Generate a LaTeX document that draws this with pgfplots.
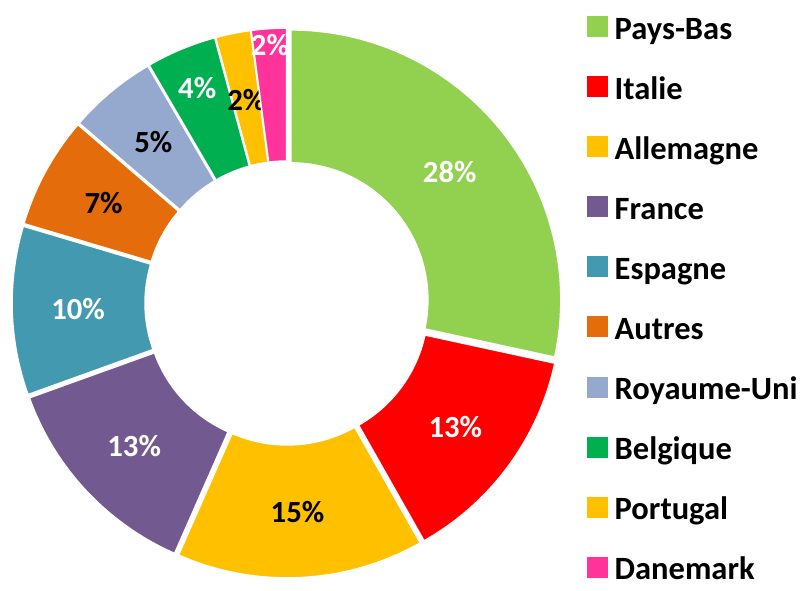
\documentclass[border=0pt]{standalone}
\usepackage{fontspec}
\setmainfont{Carlito}
\usepackage{pgfplots}
\usepackage{pgfplotstable}
\pgfplotsset{compat=1.18}
\usetikzlibrary{calc}

\definecolor{c0}{HTML}{92D050}
\definecolor{c1}{HTML}{FF0000}
\definecolor{c2}{HTML}{FFC000}
\definecolor{c3}{HTML}{72598F}
\definecolor{c4}{HTML}{4399B0}
\definecolor{c5}{HTML}{E46C0A}
\definecolor{c6}{HTML}{95A8CE}
\definecolor{c7}{HTML}{00B050}
\definecolor{c8}{HTML}{FFC000}
\definecolor{c9}{HTML}{FF3399}

% share in %, label colour, label radius (px)
\pgfplotstableread{
name        val   tc     lr
Pays-Bas    28.4  white  209
Italie      13.4  white  209
Allemagne   14.8  black  209
France      12.9  white  209
Espagne     10.1  white  209
Autres      6.7   black  209
Royaume-Uni 5.3   black  209
Belgique    4.2   white  233
Portugal    2.1   black  207
Danemark    2.1   white  259
}\shares

\def\cum{0}
\pgfplotsforeachungrouped \i in {0,...,9}{%
  \pgfplotstablegetelem{\i}{val}\of\shares \let\v\pgfplotsretval
  \pgfmathsetmacro\sa{90-3.6*\cum}%
  \pgfmathsetmacro\cum{\cum+\v}%
  \pgfmathsetmacro\ea{90-3.6*\cum}%
  \pgfmathsetmacro\ma{(\sa+\ea)/2}%
  \pgfmathtruncatemacro\pc{round(\v)}%
  \expandafter\xdef\csname sa\i\endcsname{\sa}%
  \expandafter\xdef\csname ea\i\endcsname{\ea}%
  \expandafter\xdef\csname ma\i\endcsname{\ma}%
  \expandafter\xdef\csname pc\i\endcsname{\pc}%
  \pgfplotstablegetelem{\i}{tc}\of\shares
  \expandafter\xdef\csname tc\i\endcsname{\pgfplotsretval}%
  \pgfplotstablegetelem{\i}{lr}\of\shares
  \pgfmathsetmacro\lr{\pgfplotsretval*0.02}%
  \expandafter\xdef\csname lr\i\endcsname{\lr}%
}

\begin{document}
\begin{tikzpicture}
\begin{axis}[
  x=0.02cm, y=0.02cm, xmin=0, xmax=800, ymin=0, ymax=590,
  hide axis, clip=false,
  legend image code/.code={\fill[#1] (0cm,-0.145cm) rectangle (0.4cm,0.255cm);},
  legend cell align=left,
  legend style={draw=none, fill=none, inner sep=0pt, outer sep=0pt,
    row sep=0.74cm, column sep=0.14cm,
    at={(axis cs:587,574)}, anchor=north west,
    font=\bfseries\fontsize{18.5}{21}\selectfont,
    nodes={inner sep=0pt, text height=0.4cm, text depth=0pt}}]
\path (axis cs:0,0) rectangle (axis cs:800,590);
\pgfplotsinvokeforeach{0,...,9}{%
  \fill[c#1, draw=white, line width=0.03cm]
    ($(axis cs:287,287)+(\csname ma#1\endcsname:0.1cm)+(\csname sa#1\endcsname:5.4cm)$)
    arc[start angle=\csname sa#1\endcsname, end angle=\csname ea#1\endcsname, radius=5.4cm]
    -- ($(axis cs:287,287)+(\csname ma#1\endcsname:0.1cm)+(\csname ea#1\endcsname:2.74cm)$)
    arc[start angle=\csname ea#1\endcsname, end angle=\csname sa#1\endcsname, radius=2.74cm]
    -- cycle;
  \node[text=\csname tc#1\endcsname, font=\bfseries\fontsize{17.5}{20}\selectfont]
    at ($(axis cs:287,287)+(\csname ma#1\endcsname:\csname lr#1\endcsname cm)$)
    {\csname pc#1\endcsname\%};
}
\addlegendimage{c0}\addlegendentry{Pays-Bas}
\addlegendimage{c1}\addlegendentry{Italie}
\addlegendimage{c2}\addlegendentry{Allemagne}
\addlegendimage{c3}\addlegendentry{France}
\addlegendimage{c4}\addlegendentry{Espagne}
\addlegendimage{c5}\addlegendentry{Autres}
\addlegendimage{c6}\addlegendentry{Royaume-Uni}
\addlegendimage{c7}\addlegendentry{Belgique}
\addlegendimage{c8}\addlegendentry{Portugal}
\addlegendimage{c9}\addlegendentry{Danemark}
\end{axis}
\end{tikzpicture}
\end{document}
